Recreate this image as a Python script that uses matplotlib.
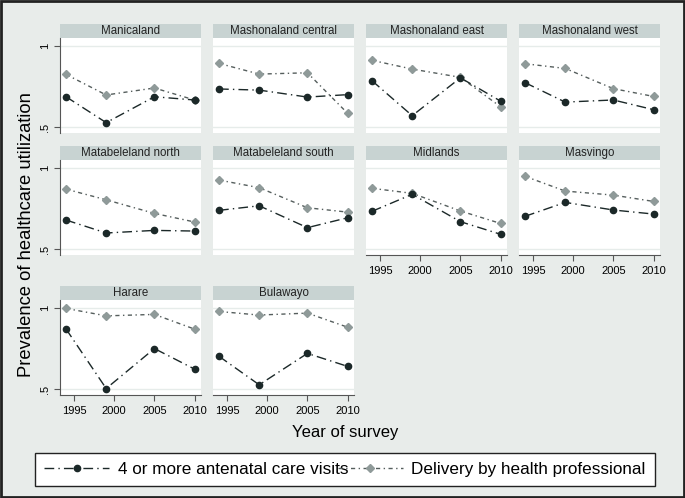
import matplotlib.pyplot as plt
import numpy as np

plt.rcParams['font.family'] = ['Liberation Sans', 'DejaVu Sans']

# ---- data
years = [1994, 1999, 2005, 2010]
regions = ["Manicaland", "Mashonaland central", "Mashonaland east", "Mashonaland west",
           "Matabeleland north", "Matabeleland south", "Midlands", "Masvingo",
           "Harare", "Bulawayo"]
anc4 = [
    [0.687, 0.527, 0.687, 0.667],
    [0.735, 0.728, 0.685, 0.700],
    [0.786, 0.570, 0.804, 0.660],
    [0.774, 0.654, 0.667, 0.607],
    [0.679, 0.599, 0.615, 0.611],
    [0.739, 0.767, 0.632, 0.693],
    [0.733, 0.838, 0.669, 0.591],
    [0.702, 0.788, 0.741, 0.716],
    [0.871, 0.503, 0.750, 0.623],
    [0.702, 0.526, 0.720, 0.640],
]
delivery = [
    [0.825, 0.698, 0.741, 0.667],
    [0.893, 0.827, 0.835, 0.585],
    [0.912, 0.858, 0.807, 0.625],
    [0.891, 0.862, 0.737, 0.689],
    [0.870, 0.804, 0.720, 0.667],
    [0.926, 0.879, 0.755, 0.728],
    [0.875, 0.844, 0.735, 0.658],
    [0.949, 0.858, 0.833, 0.794],
    [0.998, 0.952, 0.961, 0.870],
    [0.979, 0.957, 0.969, 0.882],
]
xticks = [1995, 2000, 2005, 2010]
yticks = [0.5, 1.0]
ytick_labels = [".5", "1"]

W, H = 685, 498
bg = "#e8ecea"
head_col = "#c8d3d2"
dark = "#1b2828"
grey = "#8f9a99"
line2 = "#555e5d"

fig = plt.figure(figsize=(W / 100, H / 100), dpi=100, facecolor=bg)

def px(x0, y0, w, h):
    return [x0 / W, 1 - (y0 + h) / H, w / W, h / H]

col_x = [60, 213, 366, 519]
pw = 141
row_y = [24, 146, 286]   # haut du bandeau
hh = 14
ph = 95

for i, name in enumerate(regions):
    r, c = divmod(i, 4)
    x0 = col_x[c]
    y0 = row_y[r]
    hax = fig.add_axes(px(x0, y0, pw, hh))
    hax.set_facecolor(head_col)
    hax.set_xticks([]); hax.set_yticks([])
    for s in hax.spines.values():
        s.set_visible(False)
    hax.text(0.5, 0.5, name, ha='center', va='center', fontsize=8.3, color="#222222")

    ax = fig.add_axes(px(x0, y0 + hh, pw, ph))
    ax.set_facecolor("white")
    ax.set_xlim(1993.25, 2010.8)
    ax.set_ylim(0.463, 1.05)
    for v in yticks:
        ax.axhline(v, color="#e6ecea", lw=1, zorder=0)
    ax.plot(years, anc4[i], color=dark, lw=1, dashes=(7, 3, 1, 3),
            marker='o', ms=4.5, mfc=dark, mec=dark, zorder=3)
    ax.plot(years, delivery[i], color=line2, lw=1, dashes=(3, 2.5, 1, 2.5),
            marker='D', ms=4.5, mfc=grey, mec=grey, zorder=2)
    for s in ax.spines.values():
        s.set_visible(False)
    bottom = (r == 2) or (r == 1 and c >= 2)
    left = (c == 0)
    ax.set_xticks(xticks)
    ax.set_yticks(yticks)
    if bottom:
        ax.spines['bottom'].set_visible(True)
        ax.spines['bottom'].set_color("#555555")
        ax.set_xticklabels([str(t) for t in xticks], fontsize=8)
        ax.tick_params(axis='x', length=4, color="#555555", pad=4)
    else:
        ax.tick_params(axis='x', length=0, labelbottom=False)
    if left:
        ax.spines['left'].set_visible(True)
        ax.spines['left'].set_color("#555555")
        ax.set_yticklabels(ytick_labels, fontsize=8, rotation=90, va='center')
        ax.tick_params(axis='y', length=4, color="#555555", pad=3)
    else:
        ax.tick_params(axis='y', length=0, labelleft=False)

fig.text(27 / W, 1 - 235 / H, "Prevalence of healthcare utilization", rotation=90,
         ha='center', va='center', fontsize=13.2)
fig.text(345 / W, 1 - 432 / H, "Year of survey", ha='center', va='center', fontsize=12)

h1, = plt.plot([], [], color=dark, lw=1, dashes=(7, 3, 1, 3), marker='o', ms=4.5,
               mfc=dark, mec=dark)
h2, = plt.plot([], [], color=line2, lw=1, dashes=(3, 2.5, 1, 2.5), marker='D', ms=4.5,
               mfc=grey, mec=grey)
leg = fig.legend([h1, h2], ["4 or more antenatal care visits", "Delivery by health professional"],
                 loc='center', bbox_to_anchor=(35 / W, 1 - 486 / H, 620 / W, 33 / H),
                 mode='expand', ncol=2, fontsize=12.3, handlelength=3.8, handletextpad=0.5,
                 columnspacing=0.2, fancybox=False, edgecolor="#222222", framealpha=1,
                 borderaxespad=0, borderpad=0.55)
leg.get_frame().set_linewidth(1)

# cadre extérieur
fig.patches.append(plt.Rectangle((0.002, 0.003), 0.996, 0.994, transform=fig.transFigure,
                                 fill=False, edgecolor="#222222", lw=2))

fig.savefig("out.png", dpi=100, facecolor=bg)
